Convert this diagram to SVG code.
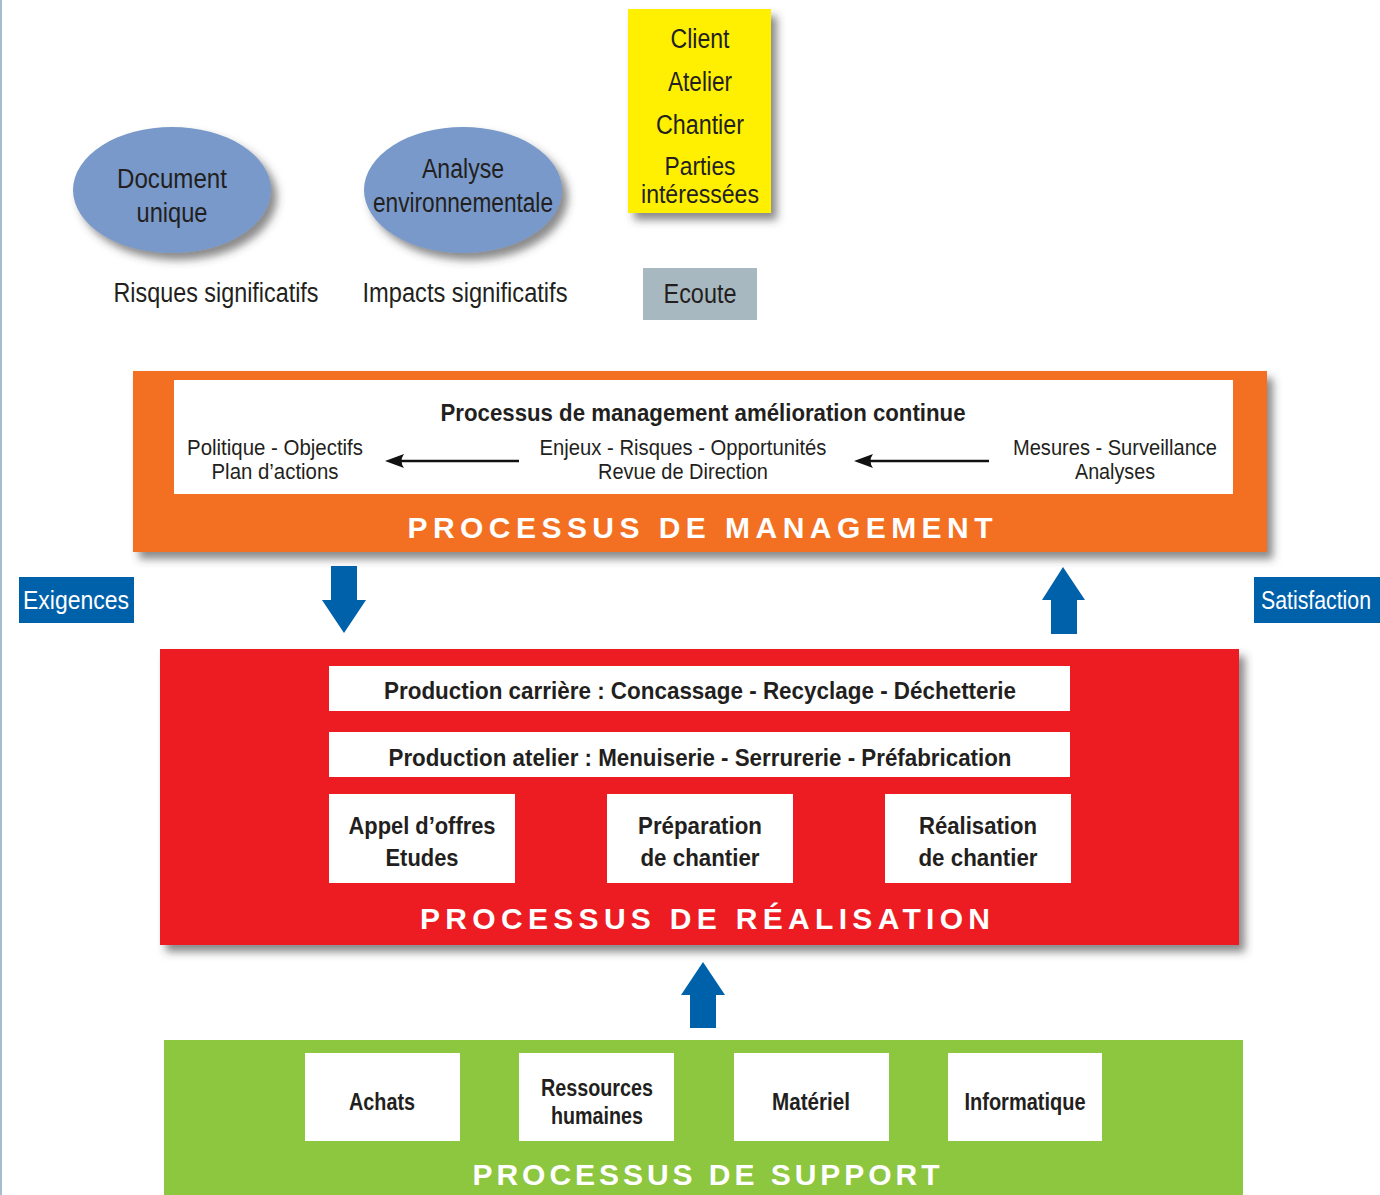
<svg xmlns="http://www.w3.org/2000/svg" width="1380" height="1195" viewBox="0 0 1380 1195">
<defs>
<filter id="sh" x="-10%" y="-10%" width="130%" height="140%">
<feDropShadow dx="6" dy="7" stdDeviation="4" flood-color="#3a3a3a" flood-opacity="0.6"/>
</filter>
<style>
.lt{font-family:"Liberation Sans",Arial,sans-serif;fill:#231f20;text-anchor:middle}
.bd{font-family:"Liberation Sans",Arial,sans-serif;font-weight:bold;fill:#231f20;text-anchor:middle}
.ban{font-family:"Liberation Sans",Arial,sans-serif;font-weight:bold;fill:#fff;text-anchor:middle;font-size:30px}
.wt{font-family:"Liberation Sans",Arial,sans-serif;fill:#fff;text-anchor:middle;font-size:26px}
.wb{fill:#fff}
.blue{fill:#0061ab}
</style>
</defs>
<rect x="0" y="0" width="2" height="1195" fill="#a9bccb"/>

<g id="doc-unique">
<ellipse cx="172" cy="190" rx="99" ry="63" fill="#7899c9" filter="url(#sh)"/>
<text class="lt" x="172" y="188" font-size="27" textLength="110" lengthAdjust="spacingAndGlyphs">Document</text>
<text class="lt" x="172" y="222" font-size="27" textLength="71" lengthAdjust="spacingAndGlyphs">unique</text>
<text class="lt" x="216" y="302" font-size="27" textLength="205" lengthAdjust="spacingAndGlyphs">Risques significatifs</text>
</g>
<g id="analyse-env">
<ellipse cx="463" cy="190" rx="99" ry="63" fill="#7899c9" filter="url(#sh)"/>
<text class="lt" x="463" y="178" font-size="27" textLength="82" lengthAdjust="spacingAndGlyphs">Analyse</text>
<text class="lt" x="463" y="212" font-size="27" textLength="180" lengthAdjust="spacingAndGlyphs">environnementale</text>
<text class="lt" x="465" y="302" font-size="27" textLength="205" lengthAdjust="spacingAndGlyphs">Impacts significatifs</text>
</g>
<g id="parties">
<rect x="628" y="9" width="143" height="204" fill="#ffef00" filter="url(#sh)"/>
<text class="lt" x="700" y="48" font-size="27" textLength="59" lengthAdjust="spacingAndGlyphs">Client</text>
<text class="lt" x="700" y="91" font-size="27" textLength="64" lengthAdjust="spacingAndGlyphs">Atelier</text>
<text class="lt" x="700" y="134" font-size="27" textLength="88" lengthAdjust="spacingAndGlyphs">Chantier</text>
<text class="lt" x="700" y="175" font-size="26" textLength="71" lengthAdjust="spacingAndGlyphs">Parties</text>
<text class="lt" x="700" y="203" font-size="26" textLength="118" lengthAdjust="spacingAndGlyphs">intéressées</text>
</g>
<g id="ecoute">
<rect x="643" y="268" width="114" height="52" fill="#a7b8c1"/>
<text class="lt" x="700" y="303" font-size="27" textLength="73" lengthAdjust="spacingAndGlyphs">Ecoute</text>
</g>

<g id="management">
<rect x="133" y="371" width="1134" height="181" fill="#f37021" filter="url(#sh)"/>
<rect x="174" y="380" width="1059" height="114" class="wb"/>
<text class="bd" x="703" y="421" font-size="24" textLength="525" lengthAdjust="spacingAndGlyphs">Processus de management amélioration continue</text>
<text class="lt" x="275" y="455" font-size="22" textLength="176" lengthAdjust="spacingAndGlyphs">Politique - Objectifs</text>
<text class="lt" x="275" y="479" font-size="22" textLength="127" lengthAdjust="spacingAndGlyphs">Plan d’actions</text>
<text class="lt" x="683" y="455" font-size="22" textLength="287" lengthAdjust="spacingAndGlyphs">Enjeux - Risques - Opportunités</text>
<text class="lt" x="683" y="479" font-size="22" textLength="170" lengthAdjust="spacingAndGlyphs">Revue de Direction</text>
<text class="lt" x="1115" y="455" font-size="22" textLength="204" lengthAdjust="spacingAndGlyphs">Mesures - Surveillance</text>
<text class="lt" x="1115" y="479" font-size="22" textLength="80" lengthAdjust="spacingAndGlyphs">Analyses</text>
<text class="ban" x="700" y="538" textLength="585" lengthAdjust="spacing">PROCESSUS DE MANAGEMENT</text>
</g>

<g id="exigences">
<rect x="19" y="577" width="115" height="46" class="blue"/>
<text class="wt" x="76" y="609" textLength="106" lengthAdjust="spacingAndGlyphs">Exigences</text>
</g>
<g id="satisfaction">
<rect x="1254" y="577" width="126" height="46" class="blue"/>
<text class="wt" x="1316" y="609" font-size="25" textLength="110" lengthAdjust="spacingAndGlyphs">Satisfaction</text>
</g>

<g id="realisation">
<rect x="160" y="649" width="1079" height="296" fill="#ed1c24" filter="url(#sh)"/>
<rect x="329" y="666" width="741" height="45" class="wb"/>
<text class="bd" x="700" y="699" font-size="23" textLength="632" lengthAdjust="spacingAndGlyphs">Production carrière : Concassage - Recyclage - Déchetterie</text>
<rect x="329" y="732" width="741" height="45" class="wb"/>
<text class="bd" x="700" y="766" font-size="23" textLength="623" lengthAdjust="spacingAndGlyphs">Production atelier : Menuiserie - Serrurerie - Préfabrication</text>
<rect x="329" y="794" width="186" height="89" class="wb"/>
<text class="bd" x="422" y="834" font-size="23" textLength="147" lengthAdjust="spacingAndGlyphs">Appel d’offres</text>
<text class="bd" x="422" y="866" font-size="23" textLength="73" lengthAdjust="spacingAndGlyphs">Etudes</text>
<rect x="607" y="794" width="186" height="89" class="wb"/>
<text class="bd" x="700" y="834" font-size="23" textLength="124" lengthAdjust="spacingAndGlyphs">Préparation</text>
<text class="bd" x="700" y="866" font-size="23" textLength="119" lengthAdjust="spacingAndGlyphs">de chantier</text>
<rect x="885" y="794" width="186" height="89" class="wb"/>
<text class="bd" x="978" y="834" font-size="23" textLength="118" lengthAdjust="spacingAndGlyphs">Réalisation</text>
<text class="bd" x="978" y="866" font-size="23" textLength="119" lengthAdjust="spacingAndGlyphs">de chantier</text>
<text class="ban" x="705" y="929" textLength="570" lengthAdjust="spacing">PROCESSUS DE RÉALISATION</text>
</g>

<g id="support">
<rect x="164" y="1040" width="1079" height="160" fill="#8dc63f"/>
<rect x="305" y="1053" width="155" height="88" class="wb"/>
<text class="bd" x="382" y="1110" font-size="23" textLength="66" lengthAdjust="spacingAndGlyphs">Achats</text>
<rect x="519" y="1053" width="155" height="88" class="wb"/>
<text class="bd" x="597" y="1096" font-size="23" textLength="112" lengthAdjust="spacingAndGlyphs">Ressources</text>
<text class="bd" x="597" y="1124" font-size="23" textLength="92" lengthAdjust="spacingAndGlyphs">humaines</text>
<rect x="734" y="1053" width="155" height="88" class="wb"/>
<text class="bd" x="811" y="1110" font-size="23" textLength="78" lengthAdjust="spacingAndGlyphs">Matériel</text>
<rect x="948" y="1053" width="154" height="88" class="wb"/>
<text class="bd" x="1025" y="1110" font-size="23" textLength="121" lengthAdjust="spacingAndGlyphs">Informatique</text>
<text class="ban" x="706" y="1185" textLength="467" lengthAdjust="spacing">PROCESSUS DE SUPPORT</text>
</g>

<g id="connectors">
<line x1="519" y1="461" x2="395" y2="461" stroke="#111" stroke-width="2.5"/>
<path d="M385,461 L404,454 Q399,461 404,468 Z" fill="#111"/>
<line x1="989" y1="461" x2="864" y2="461" stroke="#111" stroke-width="2.5"/>
<path d="M854,461 L873,454 Q868,461 873,468 Z" fill="#111"/>
<path d="M331,566 H357 V600 H366 L344,633 L322,600 H331 Z" class="blue"/>
<path d="M1063,567 L1085,600 H1077 V634 H1051 V600 H1042 Z" class="blue"/>
<path d="M703,962 L725,995 H716 V1028 H690 V995 H681 Z" class="blue"/>
</g>
</svg>
